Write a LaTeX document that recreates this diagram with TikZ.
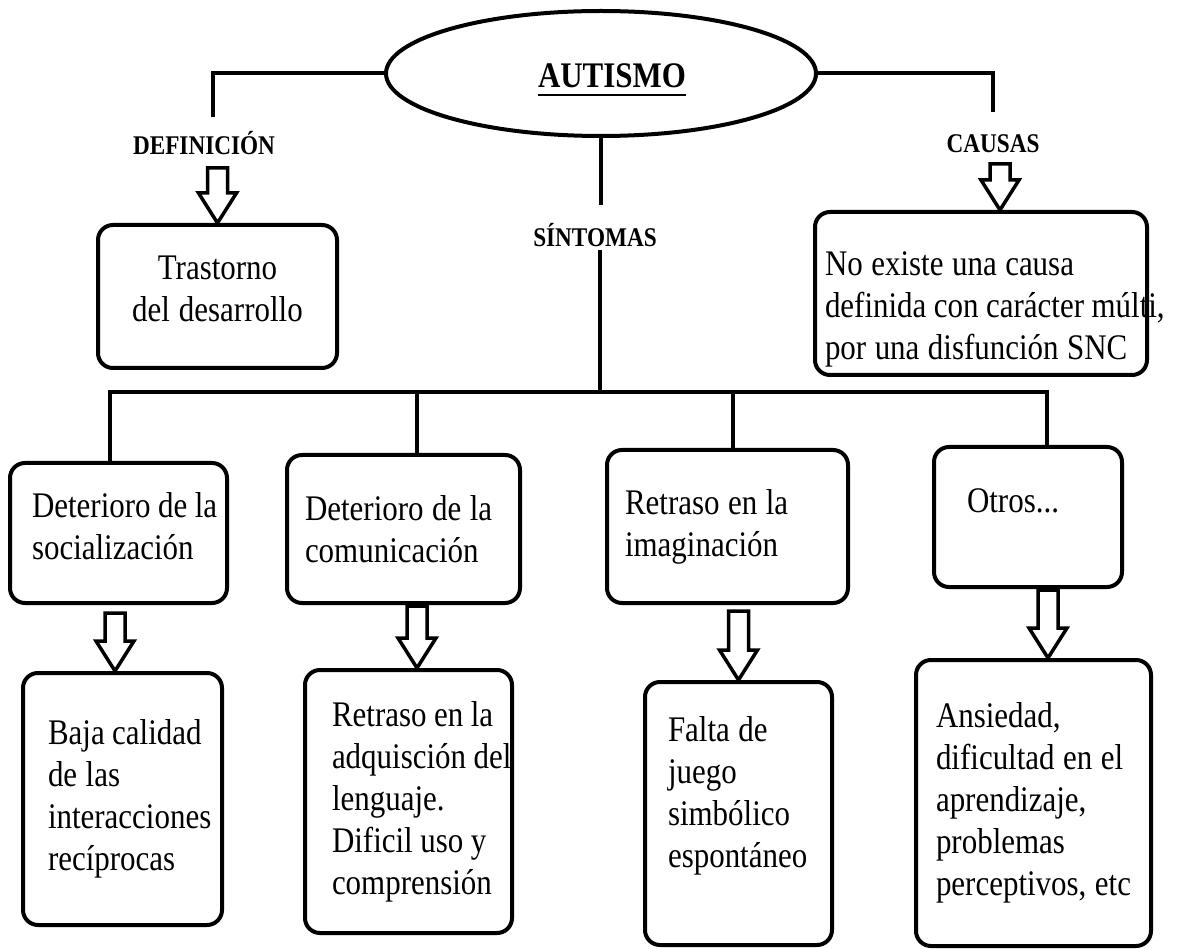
\documentclass[tikz,border=0pt]{standalone}
\usepackage{fontspec}
\setmainfont[FakeStretch=0.86]{Liberation Serif}
\usetikzlibrary{shapes.geometric}
\hyphenpenalty=10000
\exhyphenpenalty=10000

\tikzset{
  box/.style={draw, line width=4pt, rounded corners=15pt, align=left,
    inner sep=0pt, font=\fontsize{36}{42}\selectfont,
    execute at begin node={\spaceskip=8.5pt plus 2pt minus 1pt\relax}},
  tag/.style={font=\fontsize{27}{30}\selectfont\bfseries, inner sep=0pt, anchor=base},
  link/.style={line width=4pt},
  arrowline/.style={line width=3.5pt, line join=miter},
  pics/hollow/.style={code={
    \draw[arrowline] (0,0) -- (-19,-30) -- (-10,-30) -- (-10,-#1)
      -- (10,-#1) -- (10,-30) -- (19,-30) -- cycle;
  }}
}

\begin{document}
\begin{tikzpicture}[x=1pt,y=-1pt]
\useasboundingbox (0,0) rectangle (1179,949);

% centro
\node[draw, ellipse, line width=4pt, minimum width=430pt, minimum height=125pt, inner sep=0pt] (autismo) at (601,73.5) {};
\node[font=\fontsize{36}{40}\selectfont\bfseries, inner sep=0pt, anchor=base] (titulo) at (612,88) {AUTISMO};
\draw[line width=2.5pt] ([yshift=-7pt]titulo.base west) -- ([yshift=-7pt]titulo.base east);

% etiquetas
\node[tag] (deflab) at (204,155) {DEFINICIÓN};
\node[tag] (sinlab) at (595,247) {SÍNTOMAS};
\node[tag] (caulab) at (993,153) {CAUSAS};

% cajas de arriba
\node[box, align=center, text width=200pt, minimum width=239pt, minimum height=143pt, text depth=57pt] (trast) at (217.5,296.5) {Trastorno\\ del desarrollo};
\node[box, text width=312pt, minimum width=332pt, minimum height=163pt, text height=55pt] (causa) at (981,293.5) {No existe una causa\\ definida~con~carácter~múlti,\\ por~una~disfunción~SNC};

% sintomas
\node[box, text width=173pt, minimum width=217pt, minimum height=140pt, text depth=55pt] (soc) at (118.5,533) {Deterioro~de~la\\ socialización};
\node[box, text width=197pt, minimum width=233pt, minimum height=148pt] (com) at (403.5,529) {Deterioro de la\\ comunicación};
\node[box, text width=205pt, minimum width=241pt, minimum height=153pt] (imag) at (727.5,526.5) {Retraso en la\\ imaginación};
\node[box, text width=122pt, minimum width=188pt, minimum height=140pt, text depth=32pt] (otros) at (1028,517) {Otros...};

% cajas de abajo
\node[box, text width=149pt, minimum width=199pt, minimum height=252pt] (baja) at (122.5,799) {Baja~calidad\\ de las\\ interacciones\\ recíprocas};
\node[box, text width=153pt, minimum width=207pt, minimum height=263pt] (leng) at (408.5,801.5) {Retraso~en~la\\ adquisción~del\\ lenguaje.\\ Dificil~uso~y\\ comprensión};
\node[box, text width=141pt, minimum width=187pt, minimum height=263pt, text depth=168pt] (juego) at (738.5,813.5) {Falta de\\ juego\\ simbólico\\ espontáneo};
\node[box, text width=195pt, minimum width=235pt, minimum height=286pt] (ansie) at (1033.5,803) {Ansiedad,\\ dificultad~en~el\\ aprendizaje,\\ problemas\\ perceptivos,~etc};

% lineas
\coordinate (defend) at (213,117);
\coordinate (causend) at (993,112);
\coordinate (sinend) at (601,205);
\coordinate (sintop) at (600,250);
\coordinate (bus) at (600,392);
\coordinate (soctop) at ([xshift=-8.5pt]soc.north);
\coordinate (comtop) at ([xshift=13.5pt]com.north);
\coordinate (imagtop) at ([xshift=5.5pt]imag.north);
\coordinate (otrostop) at ([xshift=19pt]otros.north);

\draw[link] (autismo.west) -| (defend);
\draw[link] (autismo.east) -| (causend);
\draw[link] (autismo.south) -- (sinend);
\draw[link] (sintop) -- (bus);
\draw[link] (soctop) |- (bus) -| (otrostop);
\draw[link] (comtop) -- (comtop |- bus);
\draw[link] (imagtop) -- (imagtop |- bus);

% flechas
\pic at (trast.north) {hollow=55};
\pic at ([xshift=19pt]causa.north) {hollow=46};
\pic at ([xshift=-7.5pt]baja.north) {hollow=58};
\pic at ([xshift=8.5pt]leng.north) {hollow=62};
\pic at (juego.north) {hollow=69};
\pic at ([xshift=14.5pt]ansie.north) {hollow=68};
\end{tikzpicture}
\end{document}
